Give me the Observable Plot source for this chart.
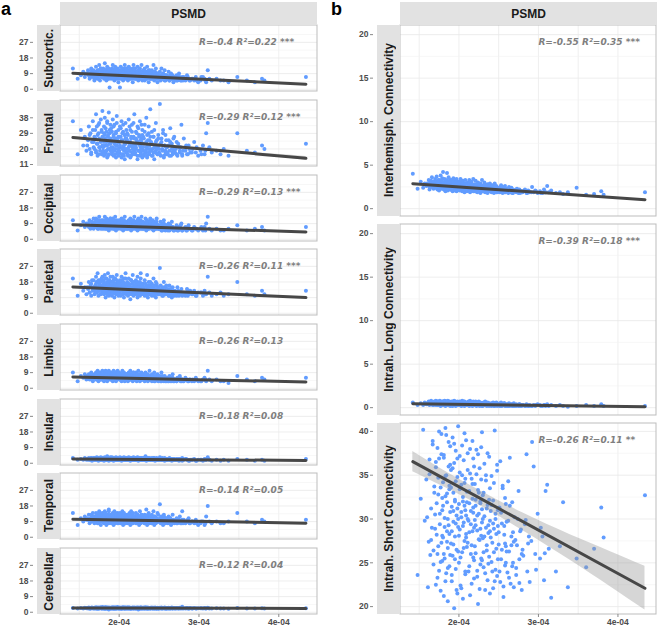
<!DOCTYPE html>
<html><head><meta charset="utf-8">
<script src="https://cdn.jsdelivr.net/npm/d3@7"></script>
<script src="https://cdn.jsdelivr.net/npm/@observablehq/plot@0.6"></script>
<style>
body{margin:0;background:#fff;font-family:"Liberation Sans",Arial,sans-serif;}
#chart{position:relative;width:657px;height:629px;overflow:hidden;background:#fff;}
.strip{position:absolute;background:#e2e2e2;display:flex;align-items:center;justify-content:center;font-weight:bold;font-size:12px;color:#1a1a1a;}
.vlab{writing-mode:vertical-rl;transform:rotate(180deg);white-space:nowrap;}
.tag{position:absolute;font-weight:bold;font-size:18px;line-height:18px;color:#000;}
g[aria-label$="tick label"]{font-weight:bold;fill:#4d4d4d;}
g[aria-label$="-axis tick"]{stroke:#8a8a8a;}
</style></head><body><div id="chart"></div>
<script>
// PSMD values (units of 1e-4), shared by all panels (same subjects)
const psmd = [
1.42,1.48,
1.52,1.55,1.57,1.59,
1.61,1.62,1.63,1.64,1.65,1.66,1.67,1.68,1.69,
1.70,1.71,1.71,1.72,1.73,1.73,1.74,1.75,1.75,1.76,1.77,1.77,1.78,1.78,1.79,1.79,
1.80,1.80,1.81,1.81,1.82,1.82,1.83,1.83,1.84,1.84,1.85,1.85,1.86,1.86,1.87,1.87,1.88,1.88,1.89,1.89,
1.90,1.90,1.91,1.91,1.92,1.92,1.93,1.93,1.94,1.94,1.95,1.95,1.96,1.96,1.97,1.97,1.98,1.98,1.99,1.99,
2.00,2.00,2.01,2.01,2.02,2.03,2.03,2.04,2.04,2.05,2.05,2.06,2.06,2.07,2.07,2.08,2.08,2.09,2.09,
2.10,2.10,2.11,2.11,2.12,2.13,2.13,2.14,2.14,2.15,2.16,2.16,2.17,2.17,2.18,2.18,2.19,2.19,
2.20,2.20,2.21,2.21,2.22,2.23,2.23,2.24,2.24,2.25,2.26,2.26,2.27,2.27,2.28,2.28,2.29,2.29,
2.30,2.30,2.31,2.32,2.32,2.33,2.34,2.34,2.35,2.36,2.36,2.37,2.38,2.38,2.39,2.39,
2.40,2.41,2.41,2.42,2.43,2.43,2.44,2.45,2.46,2.46,2.47,2.48,2.48,2.49,
2.50,2.51,2.52,2.52,2.53,2.54,2.55,2.56,2.57,2.58,2.58,2.59,
2.60,2.61,2.62,2.63,2.64,2.65,2.66,2.67,2.68,2.69,
2.70,2.72,2.73,2.75,2.76,2.78,2.79,
2.81,2.83,2.85,2.87,2.89,
2.92,2.94,2.96,2.99,
3.02,3.05,3.07,3.09,
3.11,3.13,3.16,
3.22,3.27,
3.31,3.37,
3.48,3.60,3.70,3.79,3.82,4.34,
1.60,1.63,1.65,1.67,1.68,1.69,
1.70,1.71,1.72,1.73,1.74,1.74,1.75,1.76,1.77,1.78,1.79,1.79,
1.80,1.81,1.81,1.82,1.83,1.83,1.84,1.85,1.85,1.86,1.86,1.87,1.88,1.88,1.89,1.89,
1.90,1.91,1.91,1.92,1.93,1.93,1.94,1.95,1.95,1.96,1.96,1.97,1.98,1.98,1.99,1.99,
2.00,2.01,2.01,2.02,2.03,2.03,2.04,2.05,2.05,2.06,2.07,2.07,2.08,2.08,2.09,2.09,
2.10,2.11,2.11,2.12,2.13,2.13,2.14,2.15,2.15,2.16,2.17,2.17,2.18,2.18,2.19,2.19,
2.20,2.21,2.21,2.22,2.23,2.23,2.24,2.25,2.25,2.26,2.27,2.27,2.28,2.28,2.29,2.29,
2.30,2.31,2.31,2.32,2.33,2.34,2.35,2.35,2.36,2.37,2.37,2.38,2.39,2.39,
2.40,2.41,2.42,2.43,2.44,2.44,2.45,2.46,2.47,2.48,2.49,2.49,
2.50,2.51,2.53,2.54,2.55,2.56,2.57,2.58,2.59,2.59,
2.60,2.62,2.63,2.64,2.66,2.67,2.68,2.69,
2.71,2.72,2.74,2.76,2.77,2.79,
2.80,2.84,2.86,2.88,
2.91,2.97,3.03,3.08];

const subcortic = [
12,6, 8,10,7,9, 11,8,6,9,12,7,10,8,5,
9,13,7,10,6,11,8,14,9,5,12,8,10,7,9,11,
8,12,6,10,15,7,9,11,5,8,13,9,6,10,12,7,1,9,11,8,
10,6,12,8,9,14,7,11,5,9,10,13,6,8,11,7,9,12,4,10,
8,11,1,9,13,6,10,7,12,8,5,9,11,14,7,10,6,8,12,
9,7,11,5,13,8,10,6,12,9,7,11,4,8,14,10,6,9,
8,12,6,10,7,13,9,5,11,8,6,12,9,7,10,14,5,8,
7,11,9,5,12,8,6,10,13,7,9,4,11,8,6,10,
9,6,11,7,14,8,5,10,7,12,6,9,4,8,
7,10,5,8,12,6,9,7,11,5,8,6,
8,6,10,5,7,9,6,8,4,7,
6,8,5,9,7,5,6, 7,5,8,6,5, 6,5,7,4, 5,7,6,4, 11,6,5, 6,5, 5,4,
7,5,4,6,5,7,
9,7,10,8,11,6,
8,10,7,9,11,6,9,8,12,7,10,9,
7,9,11,8,6,10,9,7,12,8,10,6,9,11,7,8,
9,7,10,8,11,6,9,12,7,8,10,9,6,11,8,7,
8,10,6,9,7,11,8,9,6,10,12,7,8,9,11,7,
7,9,8,10,6,8,11,7,9,6,10,8,12,7,9,8,
8,6,9,7,10,8,6,11,7,9,8,10,6,9,7,8,
7,9,6,8,10,7,9,6,8,11,7,8,6,9,
7,8,6,9,7,10,6,8,7,9,6,8,
7,6,8,6,9,7,5,8,6,7,
6,7,5,8,6,7,5,6,
6,5,7,6,5,7, 5,6,7,5, 6,5,7,5];

const frontal = [
36,17, 31,22,27,19, 25,33,20,29,17,24,36,21,27,
31,18,40,23,28,16,34,21,26,19,37,24,30,17,22,42,
25,19,33,16,28,38,22,18,30,24,15,35,20,27,17,41,23,29,19,26,
21,32,17,25,37,19,28,16,23,34,20,26,15,30,22,39,18,24,27,16,
24,18,33,21,27,15,36,20,25,17,30,22,19,28,14,23,35,18,26,
20,29,16,24,37,19,22,31,15,26,18,34,21,17,27,23,40,19,
22,17,30,20,25,14,33,19,23,28,16,36,21,18,26,24,15,31,
19,27,16,23,34,18,21,38,15,25,20,29,17,22,43,19,
24,16,30,20,18,27,14,22,35,19,25,17,21,28,
18,46,23,16,26,20,31,15,22,19,28,17,
21,17,25,19,32,16,23,18,20,27,
18,24,16,21,19,34,17, 26,19,17,22,18, 20,24,18,16, 19,22,17,29, 35,21,18, 19,17, 20,16,
29,19,18,22,20,23,
22,28,18,31,24,20,
26,19,33,23,29,17,35,21,25,31,18,27,
21,29,24,17,32,26,19,36,22,28,16,25,31,20,34,23,
24,18,30,21,27,33,19,25,17,29,22,35,20,26,18,31,
19,27,22,32,17,25,29,21,34,16,23,28,20,26,18,31,
25,17,28,21,33,19,24,27,16,30,22,20,35,18,26,23,
18,26,21,29,16,24,32,19,27,22,17,25,34,20,23,28,
21,17,26,30,19,24,16,28,22,33,18,25,20,27,
19,23,16,27,21,31,18,24,20,17,26,22,
20,17,24,19,29,16,22,18,25,21,
18,22,16,24,20,17,26,19,
20,17,23,18,21,16, 19,22,17,20, 18,21,17,19];

const occipital = [
11,5, 8,10,7,9, 9,7,11,6,8,10,7,12,8,
10,7,12,8,6,11,9,7,13,8,10,6,9,11,7,8,
8,11,6,9,13,7,10,8,6,12,9,7,11,8,5,10,9,7,12,8,
9,6,11,8,7,12,9,6,10,8,13,7,9,5,11,8,7,10,9,6,
8,11,7,9,6,12,8,10,7,9,5,11,8,13,7,9,6,10,8,
7,10,8,6,11,9,7,12,8,5,10,7,9,6,11,8,13,7,
9,6,10,8,7,11,5,9,12,7,8,6,10,9,13,7,8,6,
8,10,6,9,7,12,8,5,11,7,9,6,10,8,7,12,
7,9,6,11,8,5,10,7,9,6,12,8,7,6,
8,6,10,7,5,9,7,11,6,8,5,7,
7,5,9,6,8,6,10,7,5,6,
6,8,5,7,6,9,5, 6,7,5,8,6, 5,7,6,5, 6,5,7,9, 13,6,5, 6,5, 5,6,
8,5,6,7,5,7,
8,10,7,9,6,8,
9,7,10,8,6,9,11,7,8,10,6,9,
7,9,8,10,6,8,11,7,9,8,6,10,7,9,8,12,
8,10,7,9,6,8,11,7,9,8,10,6,8,9,7,10,
9,7,8,10,6,9,7,11,8,6,9,8,10,7,9,6,
8,6,9,7,10,8,6,9,7,11,8,6,9,7,8,10,
7,9,6,8,10,7,8,6,9,7,11,8,6,9,7,8,
8,6,9,7,8,10,6,7,9,8,6,7,10,8,
7,6,8,9,6,7,8,6,10,7,6,8,
7,6,8,5,7,9,6,7,6,8,
6,7,5,8,6,7,6,5,
6,7,5,6,8,5, 6,5,7,6, 5,6,7,5];

const parietal = [
20,10, 17,13,15,11, 14,18,12,16,10,19,13,15,11,
16,21,12,18,14,23,10,17,13,19,15,11,20,14,16,12,
15,19,11,17,22,13,9,16,20,14,12,18,15,23,10,17,13,19,11,16,
14,18,10,16,21,12,15,19,9,17,13,20,11,16,14,22,12,18,15,10,
17,12,19,14,10,16,21,13,18,11,15,20,9,14,17,12,23,13,16,
13,18,10,15,20,12,16,8,14,19,11,17,13,22,15,10,18,14,
15,11,19,13,17,9,21,14,12,16,18,10,15,23,13,11,17,14,
12,17,14,10,19,13,16,11,22,15,9,18,12,14,16,11,
14,10,17,12,20,15,11,13,18,9,16,12,14,11,
13,26,11,16,12,14,10,18,13,15,11,12,
12,14,10,16,11,13,9,15,12,11,
13,11,15,10,12,14,11, 12,10,14,11,13, 11,13,10,12, 12,10,13,11, 21,12,10, 11,12, 10,11,
18,11,10,13,11,13,
15,12,17,14,19,13,
14,17,12,15,19,13,16,11,18,14,21,15,
13,16,18,12,15,20,14,11,17,13,16,19,12,15,21,14,
16,13,11,18,14,15,20,12,17,13,15,19,11,16,14,18,
12,15,17,13,19,11,14,16,18,12,15,13,20,14,11,17,
15,12,14,17,11,16,13,19,14,12,15,18,11,14,16,13,
13,16,12,14,18,11,15,13,17,12,14,20,11,15,13,16,
14,11,15,13,17,12,14,10,16,13,12,15,18,11,
12,15,11,13,16,10,14,12,17,11,13,15,
11,14,12,10,15,12,13,11,16,12,
11,13,10,14,12,11,13,10,
12,10,13,11,12,10, 11,12,10,13, 11,10,12,11];

const limbic = [
9,4, 7,6,8,5, 6,8,5,7,9,6,4,7,8,
7,9,5,6,8,10,4,7,6,9,5,8,7,6,10,5,
6,8,4,7,9,5,10,6,7,8,4,9,6,5,7,10,8,6,5,7,
8,5,7,9,6,4,10,7,5,8,6,9,7,4,6,8,5,10,7,6,
7,9,5,6,8,4,7,10,6,5,8,7,9,4,6,7,5,8,6,
6,8,4,7,9,5,6,10,7,5,8,6,4,7,9,5,6,8,
5,7,9,6,4,8,6,10,5,7,6,4,8,7,5,9,6,5,
7,5,8,6,4,9,6,5,7,8,4,6,10,5,7,6,
6,4,8,5,7,6,9,4,6,5,7,5,8,4,
5,7,4,6,9,5,6,4,7,5,6,4,
6,4,5,7,4,6,5,8,4,5,
5,4,6,5,7,4,5, 4,6,5,4,5, 5,4,6,4, 4,5,6,4, 10,5,4, 5,4, 4,3,
7,5,4,6,5,6,
7,6,8,5,7,6,
6,8,7,5,9,6,7,8,5,7,6,8,
7,5,8,6,7,9,5,6,8,7,5,6,8,7,9,6,
6,8,5,7,6,8,7,5,9,6,7,5,8,6,7,6,
7,5,6,8,7,6,5,9,7,6,8,5,7,6,8,6,
6,7,5,8,6,7,5,6,8,7,5,6,9,6,7,5,
6,5,7,6,8,5,6,7,5,8,6,7,5,6,7,6,
5,7,6,5,8,6,5,7,6,5,7,6,5,6,
6,5,7,5,6,4,7,5,6,5,7,5,
5,6,4,7,5,6,5,4,6,5,
5,4,6,5,4,6,5,4,
5,4,5,6,4,5, 4,5,4,5, 4,5,4,5];

const insular = [
3,2, 2.5,2,3,2, 2,3,2.5,2,3,1.5,2.5,3,2,
3,2,2.5,3.5,2,3,1.5,2.5,3,2,3.5,2,2.5,3,2,2.5,
2,3,2.5,1.5,3.5,2,3,2.5,2,3,4,2,2.5,3,1.5,2.5,3,2,3.5,2.5,
2.5,3,2,3.5,2,2.5,3,1.5,2,3,2.5,2,3.5,2.5,2,3,2,2.5,3,2,
3,2,2.5,3.5,2,1.5,3,2.5,2,3,2,2.5,3.5,2,3,2.5,2,3,2,
2,3,2.5,2,3.5,2,2.5,3,1.5,2.5,2,3,2,2.5,3.5,2,3,2.5,
2.5,2,3,2,2.5,3.5,2,3,1.5,2.5,2,3,2.5,2,3,2,2.5,2,
2,2.5,3,2,2.5,4,2,1.5,2.5,3,2,2.5,2,3,2,2.5,
2.5,2,3,2,2.5,2,3,1.5,2.5,2,3,2,2.5,2,
2,3.5,2,2.5,2,3,2,2.5,1.5,2,2.5,2,
2,2.5,2,3,2,2.5,1.5,2,2.5,2,
2,2.5,2,1.5,2.5,2,3, 2,2.5,2,1.5,2, 2,2.5,1.5,2, 2,1.5,2.5,2, 3.5,2,1.5, 2,1.5, 2,1.5,
2.5,2,1.5,2,1.5,2.5,
2.5,2,3,2.5,2,3,
2,2.5,3,2,2.5,3,2,2.5,2,3,2.5,2,
2.5,3,2,2.5,2,3,2.5,2,3,2.5,2,2.5,3,2,2.5,2,
3,2,2.5,2,3,2.5,2,2.5,3,2,2.5,2,3,2.5,2,2.5,
2,2.5,3,2,2.5,2,3,2.5,2,2.5,3,2,2.5,2,3,2.5,
2.5,2,3,2.5,2,2.5,2,3,2.5,2,2.5,3,2,2.5,2,3,
2,2.5,2,3,2.5,2,2.5,3,2,2.5,2,2.5,3,2,2.5,2,
2.5,2,3,2,2.5,2,2.5,3,2,2.5,2,2,2.5,2,
2,2.5,2,3,2,2.5,2,2.5,2,2,2.5,2,
2,2.5,2,2,2.5,2,3,2,2.5,2,
2,2.5,2,2,2.5,2,2,2.5,
2,2,2.5,2,2,1.5, 2,2.5,2,1.5, 2,1.5,2,2];

const temporal = [
14,7, 11,9,12,10, 10,13,8,11,9,12,14,9,11,
12,9,14,10,8,13,11,15,9,12,10,7,13,11,9,14,
10,13,8,12,15,9,11,14,7,10,12,9,13,11,8,16,10,12,9,11,
11,8,13,10,14,9,12,7,11,15,10,8,12,13,9,11,14,10,8,12,
9,12,10,14,8,11,13,9,15,10,7,12,11,9,13,10,8,12,11,
10,13,8,11,9,14,12,7,10,15,9,11,13,8,10,12,9,11,
12,9,11,14,8,10,13,9,12,7,11,15,10,8,13,9,11,10,
9,12,10,8,13,11,16,9,7,12,10,14,8,11,9,12,
11,8,13,10,9,15,7,12,10,8,11,14,9,10,
9,19,11,8,12,10,7,13,9,11,8,10,
10,8,12,9,11,7,10,13,9,8,
9,11,8,10,12,8,15, 10,8,9,11,8, 9,8,10,7, 8,9,7,12, 18,9,8, 9,8, 8,9,
14,9,8,10,9,10,
11,9,13,10,12,8,
10,12,9,13,11,8,14,10,12,9,11,13,
11,9,12,14,10,8,13,11,9,12,10,15,9,11,13,10,
12,10,9,13,11,8,12,10,14,9,11,13,10,8,12,11,
10,12,9,11,13,8,10,12,9,14,11,10,8,12,9,11,
11,9,12,10,8,13,11,9,12,10,14,8,11,10,12,9,
10,12,8,11,9,13,10,12,9,11,8,10,13,9,11,10,
9,11,10,8,12,9,11,10,13,8,10,9,11,12,
10,8,11,9,12,10,8,11,9,10,13,9,
9,11,8,10,9,12,8,10,9,11,
9,10,8,11,9,8,10,9,
9,8,10,9,8,10, 8,9,10,8, 9,8,9,8];

const cerebellar = [
2.5,2.2, 2.4,2.1,2.6,2.3, 2.2,2.7,2.4,2.0,2.5,2.8,2.3,2.1,2.6,
2.4,2.9,2.2,2.6,2.0,2.5,2.7,2.3,2.1,2.8,2.4,2.6,2.2,2.5,3.0,2.3,
2.5,2.2,2.8,2.4,2.0,2.6,2.3,2.9,2.1,2.5,2.7,2.4,2.2,2.6,1.6,2.8,2.3,2.5,2.1,2.4,
2.3,2.7,2.1,2.5,2.9,2.4,2.2,2.6,2.0,2.8,2.3,2.5,2.1,2.7,2.4,2.2,2.6,3.0,2.3,2.5,
2.4,2.1,2.6,2.8,2.2,2.5,2.0,2.7,2.3,2.4,2.9,2.2,2.6,2.1,2.5,2.3,2.7,2.4,2.2,
2.6,2.2,2.4,2.9,2.1,2.5,2.7,2.3,2.0,2.6,2.4,2.2,2.8,2.5,2.3,2.1,2.7,2.4,
2.3,2.6,2.1,2.5,2.8,2.2,2.4,1.6,2.7,2.3,2.5,2.1,2.9,2.4,2.2,2.6,2.3,2.5,
2.4,2.2,2.7,2.5,2.1,2.9,2.3,2.6,2.0,2.4,2.8,2.2,2.5,2.3,2.6,2.1,
2.5,2.3,2.7,2.1,2.4,2.6,2.2,2.8,2.3,2.5,2.0,2.4,2.6,2.2,
2.3,2.6,2.1,2.4,2.8,2.2,2.5,2.3,2.7,2.1,2.4,2.2,
2.4,2.2,2.6,2.3,2.1,2.5,2.7,2.2,2.4,2.3,
2.2,2.5,2.3,2.1,2.6,2.3,3.1, 2.3,2.1,2.4,2.2,2.5, 2.2,2.4,2.1,2.3, 2.3,2.1,2.4,2.2, 2.6,2.2,2.1, 2.3,2.1, 2.2,2.0,
2.4,2.1,2.2,2.3,2.1,2.3,
2.4,2.2,2.6,2.3,2.5,2.1,
2.3,2.5,2.2,2.6,2.4,2.1,2.5,2.3,2.7,2.2,2.4,2.6,
2.4,2.2,2.5,2.3,2.7,2.1,2.4,2.6,2.2,2.5,2.3,2.4,2.6,2.2,2.5,2.3,
2.5,2.3,2.2,2.6,2.4,2.1,2.5,2.3,2.7,2.2,2.4,2.5,2.3,2.6,2.2,2.4,
2.3,2.5,2.2,2.4,2.6,2.1,2.3,2.5,2.4,2.2,2.7,2.3,2.5,2.2,2.4,2.6,
2.4,2.2,2.5,2.3,2.6,2.4,2.1,2.5,2.3,2.2,2.4,2.6,2.3,2.5,2.2,2.4,
2.3,2.5,2.2,2.4,2.3,2.6,2.1,2.4,2.5,2.2,2.3,2.5,2.4,2.2,2.6,2.3,
2.4,2.2,2.5,2.3,2.1,2.4,2.6,2.3,2.2,2.5,2.3,2.4,2.2,2.3,
2.3,2.4,2.2,2.5,2.3,2.1,2.4,2.2,2.3,2.5,2.2,2.4,
2.2,2.4,2.3,2.1,2.5,2.3,2.2,2.4,2.2,2.3,
2.3,2.2,2.4,2.1,2.3,2.2,2.4,2.3,
2.2,2.3,2.1,2.4,2.2,2.3, 2.2,2.3,2.1,2.2, 2.2,2.1,2.3,2.2];

const interhemisph = [
4.0,2.3, 3.1,2.4,2.9,2.6, 2.8,3.3,2.2,3.0,2.5,3.6,2.7,2.3,3.1,
3.4,2.4,2.9,3.7,2.2,3.1,2.6,3.3,2.1,2.8,3.8,2.5,3.0,2.3,3.5,2.7,
2.6,4.2,2.2,3.0,2.5,3.4,2.0,2.8,3.2,2.3,4.1,2.7,2.1,3.1,2.5,3.6,2.4,2.9,2.2,3.3,
2.9,2.2,3.3,2.5,2.0,3.0,2.7,3.5,2.3,2.8,2.1,3.2,2.6,2.4,3.4,2.0,2.9,2.5,3.1,2.2,
2.4,3.1,2.1,2.8,3.4,2.3,2.6,2.0,3.0,2.5,3.2,2.2,2.7,1.9,2.9,2.4,3.3,2.1,2.6,
2.5,2.0,3.0,2.3,2.7,3.3,2.1,2.6,1.9,2.8,2.4,3.1,2.2,2.5,2.0,3.4,2.3,2.7,
2.2,2.8,2.0,3.2,2.4,1.9,2.6,2.3,3.0,2.1,2.7,2.5,1.8,2.9,2.2,2.4,3.3,2.0,
2.4,2.0,2.7,2.2,3.0,1.9,2.5,2.3,2.1,2.8,1.8,2.4,2.6,2.0,2.9,2.2,
2.1,2.5,1.9,2.7,2.2,2.4,1.8,2.9,2.0,2.3,2.6,1.9,2.2,2.4,
2.2,1.9,2.5,2.0,2.7,2.3,1.8,2.4,2.1,2.6,1.9,2.2,
2.0,2.3,1.8,2.5,2.1,1.9,2.4,2.2,1.8,2.1,
2.1,1.9,2.3,1.8,2.2,2.0,1.9, 2.0,2.2,1.8,2.1,1.9, 2.5,1.9,2.1,1.8, 2.0,1.8,2.2,1.9, 2.6,1.9,2.1, 1.8,1.9, 1.7,1.9,
2.4,1.6,1.7,2.0,1.6,1.9,
2.9,2.5,3.2,2.7,3.0,2.4,
2.8,3.1,2.5,2.9,3.3,2.6,3.0,2.4,2.8,3.2,2.6,2.9,
2.7,3.0,2.4,2.8,3.2,2.5,2.9,2.6,3.3,2.3,2.7,3.0,2.5,2.8,3.1,2.4,
2.6,2.9,2.3,2.7,3.1,2.5,2.8,2.2,2.6,3.0,2.4,2.7,2.9,2.3,2.6,2.8,
2.5,2.8,2.2,2.6,3.0,2.4,2.7,2.3,2.5,2.9,2.2,2.6,2.8,2.4,2.7,2.3,
2.4,2.7,2.2,2.5,2.9,2.3,2.6,2.1,2.5,2.8,2.2,2.4,2.7,2.3,2.6,2.0,
2.3,2.6,2.1,2.4,2.8,2.2,2.5,2.0,2.4,2.7,2.2,2.3,2.6,2.1,2.5,2.3,
2.2,2.5,2.0,2.4,2.7,2.1,2.3,2.6,2.0,2.4,2.2,2.5,2.1,2.3,
2.1,2.4,2.0,2.3,2.6,2.1,2.2,2.5,1.9,2.3,2.2,2.0,
2.1,2.3,1.9,2.2,2.5,2.0,2.2,1.9,2.3,2.1,
2.0,2.2,1.9,2.3,2.1,1.8,2.2,2.0,
2.0,2.2,1.9,2.1,1.8,2.0, 1.9,2.1,1.8,2.0, 1.9,2.0,1.8,1.9];

const intrahLong = [
0.6,0.3, 0.5,0.3,0.6,0.4, 0.4,0.7,0.3,0.5,0.8,0.4,0.6,0.3,0.5,
0.6,0.3,0.8,0.4,0.5,0.7,0.3,0.6,0.4,0.8,0.5,0.2,0.6,0.4,0.7,0.3,
0.5,0.7,0.3,0.6,0.4,0.8,0.2,0.5,0.7,0.3,0.6,0.4,0.8,0.5,0.3,0.6,0.4,0.7,0.2,0.5,
0.4,0.6,0.3,0.7,0.5,0.2,0.6,0.4,0.8,0.3,0.5,0.7,0.4,0.2,0.6,0.3,0.5,0.7,0.4,0.6,
0.5,0.3,0.7,0.4,0.6,0.2,0.5,0.8,0.3,0.6,0.4,0.7,0.3,0.5,0.2,0.6,0.4,0.5,0.3,
0.4,0.6,0.3,0.5,0.7,0.2,0.5,0.4,0.8,0.3,0.6,0.4,0.2,0.5,0.7,0.3,0.4,0.6,
0.3,0.5,0.7,0.4,0.2,0.6,0.3,0.5,0.4,0.7,0.2,0.5,0.3,0.6,0.4,0.3,0.5,0.2,
0.4,0.2,0.6,0.3,0.5,0.7,0.3,0.4,0.2,0.6,0.4,0.3,0.5,0.2,0.4,0.3,
0.3,0.5,0.2,0.4,0.6,0.3,0.2,0.5,0.4,0.3,0.6,0.2,0.4,0.3,
0.4,0.2,0.5,0.3,0.6,0.2,0.4,0.3,0.5,0.2,0.3,0.4,
0.3,0.2,0.4,0.5,0.2,0.3,0.4,0.2,0.3,0.5,
0.2,0.4,0.3,0.2,0.4,0.3,0.2, 0.3,0.2,0.4,0.2,0.3, 0.2,0.3,0.2,0.4, 0.3,0.2,0.3,0.2, 0.4,0.2,0.3, 0.2,0.3, 0.2,0.1,
0.2,0.3,0.2,0.4,0.2,0.2,
0.5,0.4,0.6,0.3,0.5,0.7,
0.4,0.6,0.5,0.3,0.7,0.5,0.4,0.6,0.3,0.5,0.6,0.4,
0.5,0.3,0.6,0.4,0.7,0.5,0.3,0.6,0.4,0.5,0.7,0.3,0.5,0.6,0.4,0.5,
0.4,0.6,0.3,0.5,0.4,0.7,0.5,0.3,0.6,0.4,0.5,0.3,0.6,0.4,0.5,0.4,
0.5,0.3,0.4,0.6,0.3,0.5,0.4,0.6,0.3,0.5,0.4,0.7,0.3,0.4,0.5,0.3,
0.4,0.5,0.3,0.4,0.6,0.3,0.5,0.4,0.3,0.5,0.4,0.6,0.3,0.4,0.5,0.3,
0.3,0.4,0.5,0.3,0.4,0.6,0.3,0.4,0.5,0.3,0.4,0.3,0.5,0.4,0.3,0.4,
0.4,0.3,0.5,0.3,0.4,0.3,0.5,0.4,0.3,0.4,0.5,0.3,0.4,0.3,
0.3,0.4,0.3,0.5,0.3,0.4,0.2,0.4,0.3,0.5,0.3,0.4,
0.3,0.4,0.2,0.3,0.4,0.3,0.5,0.3,0.2,0.4,
0.3,0.2,0.4,0.3,0.3,0.4,0.2,0.3,
0.3,0.2,0.3,0.4,0.2,0.3, 0.3,0.2,0.3,0.2, 0.2,0.3,0.2,0.3];

const intrahShort = [
42.5,23.6, 32.3,40.2,29.8,34.5, 22.2,27.4,36.8,25.9,31.2,29.0,38.5,26.4,33.7,
30.5,22.5,35.9,28.2,38.1,26.0,32.8,24.1,36.9,29.4,33.6,21.8,27.3,39.7,31.0,25.2,
34.2,27.9,21.2,37.3,30.1,25.5,40.4,32.6,23.8,35.0,28.6,31.9,20.6,26.7,38.8,29.3,33.4,24.6,36.2,30.8,
27.2,35.6,22.9,31.4,39.3,25.8,33.0,29.7,19.8,36.4,28.0,32.2,24.3,37.8,30.4,26.5,34.8,21.5,29.1,40.6,
31.7,25.0,35.3,28.8,22.4,33.9,30.2,38.4,26.2,32.5,20.9,29.6,36.7,27.5,34.1,23.7,31.0,39.0,28.3,
33.1,26.8,30.0,37.5,24.0,31.8,28.5,35.2,21.3,29.4,34.6,27.0,32.3,38.9,25.6,30.7,23.2,36.0,
29.9,34.0,26.1,31.5,37.9,23.4,28.7,33.3,20.3,30.6,27.6,35.8,24.8,32.0,38.2,28.1,25.3,31.1,
27.8,32.7,24.5,30.3,36.3,21.9,29.0,34.4,26.4,31.6,23.0,28.4,37.1,25.7,33.5,29.8,
30.9,25.1,34.9,27.3,22.1,32.1,28.9,40.1,24.2,30.0,26.6,35.5,23.5,29.2,
27.1,31.3,22.8,36.6,25.4,29.5,33.8,21.1,28.2,24.7,32.4,26.9,
29.7,23.9,34.3,26.3,37.0,22.6,28.0,31.9,25.0,27.4,
30.2,24.4,27.0,33.2,22.7,28.8,26.0, 25.8,29.4,37.4,27.2,22.8, 38.8,36.0,26.0,30.6, 25.5,28.0,23.0,33.2, 33.9,26.6,21.0, 24.0,26.9, 31.9,22.2,
25.5,24.5,26.6,31.3,27.9,32.7,
30.2,35.1,27.6,38.9,24.8,33.0,
28.9,36.5,31.8,23.3,34.7,26.9,40.0,30.6,25.1,37.4,32.4,28.1,
31.5,26.0,37.0,29.1,22.9,34.9,39.6,27.4,32.9,30.0,24.4,36.0,28.3,33.8,25.9,38.3,
33.6,28.6,23.6,35.8,30.9,27.1,38.6,32.0,25.4,34.3,29.5,21.9,36.9,31.2,26.3,30.0,
28.1,33.4,37.2,25.6,30.8,22.1,35.0,29.2,32.0,26.7,39.8,31.5,24.0,34.6,27.9,30.4,
31.9,27.3,35.6,29.8,24.6,33.2,38.0,26.0,30.9,22.6,34.0,28.6,36.9,31.3,25.3,29.0,
26.9,32.2,29.3,35.1,24.1,30.4,37.4,27.7,33.0,22.0,28.9,31.8,25.5,34.5,29.6,39.9,
30.0,26.2,33.0,28.0,23.8,35.0,31.2,27.0,37.5,29.3,24.9,32.2,21.5,28.6,
27.9,31.6,24.0,29.5,34.1,26.2,22.9,30.6,28.3,36.2,25.4,31.0,
28.5,24.0,30.7,26.5,33.5,22.3,29.2,27.2,31.7,25.0,
26.3,29.8,23.3,31.5,27.0,24.6,28.5,22.2,
27.6,23.6,30.0,25.4,28.6,21.9, 26.5,29.9,24.0,28.0, 27.5,24.2,29.0,26.1];

// panel labels and statistics
const regionsA = ["Subcortic.","Frontal","Occipital","Parietal","Limbic","Insular","Temporal","Cerebellar"];
const statsA = ["R=-0.4 R\u00B2=0.22 ***","R=-0.29 R\u00B2=0.12 ***","R=-0.29 R\u00B2=0.13 ***","R=-0.26 R\u00B2=0.11 ***","R=-0.26 R\u00B2=0.13","R=-0.18 R\u00B2=0.08","R=-0.14 R\u00B2=0.05","R=-0.12 R\u00B2=0.04"];
const regionsB = ["Interhemisph. Connectivity","Intrah. Long Connectivity","Intrah. Short Connectivity"];
const statsB = ["R=-0.55 R\u00B2=0.35 ***","R=-0.39 R\u00B2=0.18 ***","R=-0.26 R\u00B2=0.11 **"];
const facetTitle = "PSMD";
const panelTags = ["a","b"];

// fitted regression lines, value at fitX[0] and fitX[1]
const fitX = [1.42, 4.34];
const fitStartA = [9.2, 26.6, 8.3, 15.1, 6.5, 2.5, 10.4, 2.4];
const fitEndA = [2.9, 14.6, 4.2, 9.0, 3.6, 1.6, 8.1, 2.2];
const fitStartB = [2.87, 0.46, 36.55];
const fitEndB = [1.03, 0.1, 22.1];
// confidence bands
const bandX = [1.42, 1.8, 2.25, 2.8, 3.4, 3.9, 4.34];
const frontalBandLo = [26.0, 24.6, 22.85, 20.5, 17.8, 15.6, 13.5];
const frontalBandHi = [27.2, 25.5, 23.55, 21.35, 19.1, 17.2, 15.7];
const shortBandLo = [35.4, 33.7, 31.6, 28.7, 25.3, 22.3, 19.6];
const shortBandHi = [37.7, 35.6, 33.3, 30.7, 28.2, 26.3, 24.6];

// ticks
const xTicks = [2, 3, 4];
const xTickLabels = ["2e-04", "3e-04", "4e-04"];
const ticksA = [0, 9, 18, 27];
const ticksFrontal = [11, 20, 29, 38];
const ticksB = [0, 5, 10, 15, 20];
const ticksShort = [20, 25, 30, 35, 40];
const annotX = 3.0;

const chart = document.getElementById("chart");
const xDomain = [1.265, 4.485];
const xGrid = [1.5, 2, 2.5, 3, 3.5, 4];
const INS = 27;

function addDiv(cls, left, top, w, h, text, vertical) {
  const d = document.createElement("div");
  d.className = cls;
  Object.assign(d.style, {left: left + "px", top: top + "px"});
  if (w != null) d.style.width = w + "px";
  if (h != null) d.style.height = h + "px";
  const s = document.createElement("span");
  if (vertical) s.className = "vlab";
  s.textContent = text;
  d.appendChild(s);
  chart.appendChild(d);
}

function panel(o) {
  const mb = o.bottom ? 14 : 1;
  const pts = psmd.map((x, i) => ({x, y: o.ys[i]})).filter(d => d.y != null);
  const step = o.ticks[1] - o.ticks[0];
  const minors = [o.ticks[0] - step / 2, ...o.ticks.map(t => t + step / 2)]
    .filter(v => v > o.yDomain[0] && v < o.yDomain[1]);
  const fit = fitX.map((x, i) => ({x, y: o.fit[i]}));
  const marks = [
    Plot.ruleX(xGrid, {stroke: "#ebebeb", strokeWidth: 0.8}),
    Plot.ruleY(minors, {x1: () => xDomain[0], x2: () => xDomain[1], stroke: "#f1f1f1", strokeWidth: 0.6}),
    Plot.ruleY(o.ticks, {x1: () => xDomain[0], x2: () => xDomain[1], stroke: "#e8e8e8", strokeWidth: 0.8}),
    Plot.dot(pts, {x: "x", y: "y", r: 2, fill: "#619CFF", clip: true})
  ];
  if (o.bandLo) {
    marks.push(Plot.areaY(bandX.map((x, i) => ({x, lo: o.bandLo[i], hi: o.bandHi[i]})),
      {x: "x", y1: "lo", y2: "hi", fill: "#999999", fillOpacity: 0.4, curve: "natural"}));
  }
  marks.push(Plot.line(fit, {x: "x", y: "y", stroke: "#474747", strokeWidth: 3}));
  marks.push(Plot.rect([0], {x1: () => xDomain[0], x2: () => xDomain[1], y1: () => o.yDomain[0], y2: () => o.yDomain[1], fill: "none", stroke: "#bdbdbd", strokeWidth: 1}));
  marks.push(Plot.text([o.label], {x: () => annotX, frameAnchor: "top", dy: 13, text: d => d, textAnchor: "start", fontFamily: "DejaVu Sans", fontStyle: "italic", fontWeight: "bold", fontSize: 9, fill: "#7f7f7f"}));
  marks.push(Plot.axisY({ticks: o.ticks, label: null, tickSize: 3, tickPadding: 2, fontSize: 8.5, fontWeight: "bold"}));
  if (o.bottom) marks.push(Plot.axisX({ticks: xTicks, label: null, tickFormat: (d, i) => xTickLabels[i], tickSize: 3, tickPadding: 1, fontSize: 8.5, fontWeight: "bold"}));
  const p = Plot.plot({
    width: o.width, height: o.h + 1 + mb,
    marginLeft: o.ml, marginRight: 1, marginTop: 1, marginBottom: mb,
    x: o.bottom ? {domain: xDomain, insetLeft: INS, label: null} : {domain: xDomain, insetLeft: INS, axis: null},
    y: {domain: o.yDomain, label: null},
    style: {fontFamily: "Liberation Sans, Arial, sans-serif", background: "transparent", overflow: "visible"},
    marks
  });
  p.style.position = "absolute";
  p.style.left = o.left + "px";
  p.style.top = (o.top - 1) + "px";
  chart.appendChild(p);
}

// column a
const seriesA = [subcortic, frontal, occipital, parietal, limbic, insular, temporal, cerebellar];
const topsA = [25, 100, 175, 249, 324, 399, 473, 548];
const hA = 66;
seriesA.forEach((ys, i) => {
  const isFrontal = i === 1;
  panel({
    left: 0, top: topsA[i], width: 318, h: hA, ml: 60 - INS,
    bottom: i === seriesA.length - 1,
    ys, ticks: isFrontal ? ticksFrontal : ticksA,
    yDomain: isFrontal ? [9.85, 48] : [-1.3, 36.7],
    fit: [fitStartA[i], fitEndA[i]],
    bandLo: isFrontal ? frontalBandLo : null, bandHi: isFrontal ? frontalBandHi : null,
    label: statsA[i]
  });
  addDiv("strip", 37, topsA[i], 23, hA, regionsA[i], true);
});

// column b
const seriesB = [interhemisph, intrahLong, intrahShort];
const topsB = [25, 224, 423];
const hB = 191;
seriesB.forEach((ys, i) => {
  const isShort = i === 2;
  panel({
    left: 330, top: topsB[i], width: 327, h: hB, ml: 400 - 330 - INS,
    bottom: isShort,
    ys, ticks: isShort ? ticksShort : ticksB,
    yDomain: isShort ? [19.1, 40.9] : [-0.9, 21.05],
    fit: [fitStartB[i], fitEndB[i]],
    bandLo: isShort ? shortBandLo : null, bandHi: isShort ? shortBandHi : null,
    label: statsB[i]
  });
  addDiv("strip", 377, topsB[i], 23, hB, regionsB[i], true);
});

// top strips and panel tags
addDiv("strip", 60, 2, 257, 23, facetTitle, false);
addDiv("strip", 400, 2, 257, 23, facetTitle, false);
addDiv("tag", 1, 0, null, null, panelTags[0], false);
addDiv("tag", 331, 0, null, null, panelTags[1], false);
</script></body></html>
